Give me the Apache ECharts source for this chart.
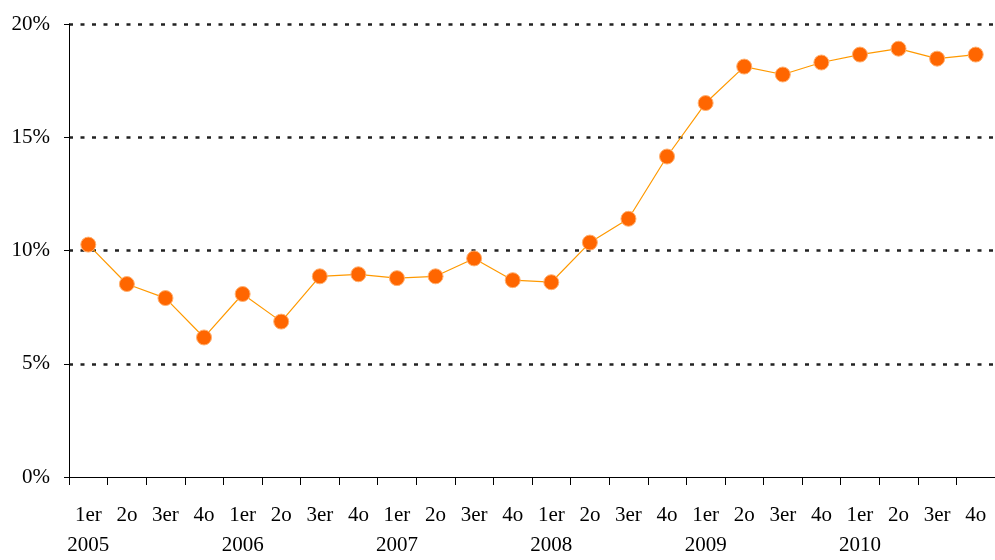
<!DOCTYPE html>
<html><head><meta charset="utf-8">
<script src="https://cdn.jsdelivr.net/npm/echarts@6/dist/echarts.min.js"></script>
<style>html,body{margin:0;padding:0;background:#fff}#c{width:995px;height:560px}</style>
</head><body><div id="c"></div>
<script>
const quarters = ["1er","2o","3er","4o"];
const years = ["2005","2006","2007","2008","2009","2010"];
const values = [10.26, 8.52, 7.90, 6.16, 8.08, 6.86, 8.86, 8.95, 8.78, 8.86, 9.65, 8.69,
                8.60, 10.35, 11.40, 14.15, 16.51, 18.12, 17.77, 18.30, 18.65, 18.91, 18.47, 18.65];
const yTicks = [0, 5, 10, 15, 20];

const categories = [];
years.forEach(y => quarters.forEach((q, i) => categories.push(i === 0 ? q + "\n" + y : q)));

const chart = echarts.init(document.getElementById('c'), null, {renderer: 'canvas'});
chart.setOption({
  animation: false,
  grid: {left: 69, right: 0, top: 24, bottom: 78, containLabel: false},
  xAxis: {
    type: 'category',
    data: categories,
    boundaryGap: true,
    axisLine: {lineStyle: {color: '#000', width: 1}},
    axisTick: {show: true, length: 8, interval: 0, lineStyle: {color: '#000'}},
    axisLabel: {interval: 0, margin: 23, color: '#000', fontFamily: 'Liberation Serif', fontSize: 21, lineHeight: 30}
  },
  yAxis: {
    type: 'value',
    min: yTicks[0], max: yTicks[yTicks.length - 1], interval: 5,
    axisLine: {show: true, lineStyle: {color: '#000', width: 1}},
    axisTick: {show: true, length: 5, lineStyle: {color: '#000'}},
    axisLabel: {formatter: '{value}%', margin: 19, color: '#000', fontFamily: 'Liberation Serif', fontSize: 21},
    splitLine: {show: true, showMinLine: false, lineStyle: {color: '#222', width: 2.5, type: [4, 7.5]}}
  },
  series: [{
    type: 'line',
    data: values,
    symbol: 'circle',
    symbolSize: 15,
    itemStyle: {color: '#FF6600', borderColor: '#FFB070', borderWidth: 1},
    lineStyle: {color: '#FF9900', width: 1.2}
  }]
});
</script></body></html>
